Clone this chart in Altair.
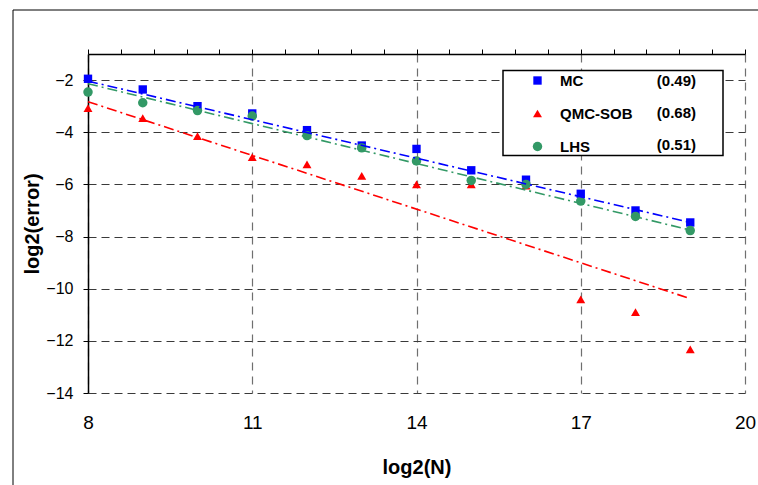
import altair as alt
import pandas as pd

# ---------------- data ----------------
log2_n = [8, 9, 10, 11, 12, 13, 14, 15, 16, 17, 18, 19]
mc_err = [-1.95, -2.36, -3.0, -3.28, -3.92, -4.51, -4.64, -5.46, -5.82, -6.36, -7.0, -7.46]
qmc_err = [-3.08, -3.46, -4.15, -4.95, -5.23, -5.67, -6.0, -6.0, -6.05, -10.41, -10.9, -12.33]
lhs_err = [-2.46, -2.87, -3.17, -3.38, -4.13, -4.6, -5.1, -5.85, -6.0, -6.64, -7.23, -7.77]

series_names = ["MC", "QMC-SOB", "LHS"]
slopes = ["(0.49)", "(0.68)", "(0.51)"]

# fitted trend lines (end points)
trend_x = [8, 19]
trend_mc = [-2.04, -7.46]
trend_qmc = [-2.83, -10.38]
trend_lhs = [-2.14, -7.75]

x_major = [8, 11, 14, 17, 20]
x_minor = [round(8 + 0.6 * k, 1) for k in range(21)]
y_ticks = [-2, -4, -6, -8, -10, -12, -14]

# ---------------- tables ----------------
pts = pd.concat([
    pd.DataFrame({"x": log2_n, "y": mc_err, "series": "MC"}),
    pd.DataFrame({"x": log2_n, "y": qmc_err, "series": "QMC-SOB"}),
    pd.DataFrame({"x": log2_n, "y": lhs_err, "series": "LHS"}),
], ignore_index=True)

trend = pd.concat([
    pd.DataFrame({"x": trend_x, "y": trend_mc, "series": "MC"}),
    pd.DataFrame({"x": trend_x, "y": trend_qmc, "series": "QMC-SOB"}),
    pd.DataFrame({"x": trend_x, "y": trend_lhs, "series": "LHS"}),
], ignore_index=True)

slope_df = pd.DataFrame({"series": series_names, "slope": slopes})
one = pd.DataFrame({"a": [0]})

colors = ["#0000FF", "#FF0000", "#339966"]
shapes = ["square", "triangle-up", "circle"]
FONT = "Liberation Sans"

x_scale = alt.Scale(domain=[8, 20], nice=False, zero=False)
y_scale = alt.Scale(domain=[-14, -1], nice=False, zero=False)

y_enc = alt.Y("y:Q", scale=y_scale, axis=alt.Axis(
    values=y_ticks, title="log2(error)", titleFont=FONT, titleFontSize=20,
    titleFontWeight="bold", titleColor="black", titleX=-56, titleY=169.5,
    titleBaseline="middle", titleAngle=270, labelFlush=False,
    labelFont=FONT, labelFontSize=16, labelColor="black", labelPadding=10,
    tickSize=5, tickColor="black", domainColor="black", domainWidth=1.5,
    grid=True, gridColor="#3a3a3a", gridDash=[8, 5], gridWidth=1.2))

points = alt.Chart(pts).mark_point(filled=True, opacity=1).encode(
    x=alt.X("x:Q", scale=x_scale, axis=alt.Axis(
        orient="bottom", values=x_major, title="log2(N)", titleFont=FONT,
        titleFontSize=20, titleFontWeight="bold", titleColor="black",
        titleX=328.5, titleY=74, titleBaseline="middle", labelFlush=False,
        labelFont=FONT, labelFontSize=19, labelColor="black", labelPadding=20,
        ticks=False, domain=False,
        grid=True, gridColor="#6f6f6f", gridDash=[8, 6], gridWidth=1.2)),
    y=y_enc,
    color=alt.Color("series:N", scale=alt.Scale(domain=series_names, range=colors),
                    legend=alt.Legend(orient="none", legendX=442, legendY=19, title=None,
                                      labelFont=FONT, labelFontSize=15,
                                      labelFontWeight="bold", labelColor="black",
                                      symbolSize=42, rowPadding=17, labelOffset=15,
                                      padding=0, symbolStrokeWidth=0)),
    shape=alt.Shape("series:N", scale=alt.Scale(domain=series_names, range=shapes)),
    size=alt.Size("series:N", scale=alt.Scale(domain=series_names, range=[70, 90, 50]),
                  legend=None),
    order=alt.Order("idx:Q"),
).transform_calculate(
    idx="datum.series == 'MC' ? 0 : (datum.series == 'QMC-SOB' ? 1 : 2)"
)

lines = alt.Chart(trend).mark_line(strokeDash=[10, 4, 2, 4], strokeWidth=1.6).encode(
    x=alt.X("x:Q", scale=x_scale, axis=alt.Axis(
        orient="top", values=x_minor, labels=False, title=None, grid=False,
        tickSize=5, tickColor="black", domainColor="black", domainWidth=1.5)),
    y=y_enc,
    stroke=alt.Stroke("series:N", scale=alt.Scale(domain=series_names, range=colors),
                      legend=None),
    detail="series:N",
)

# legend frame, slope values and outer frame
legend_box = alt.Chart(one).mark_rect(fill="white", stroke="black", strokeWidth=1.5).encode(
    x=alt.value(415), x2=alt.value(635), y=alt.value(16.5), y2=alt.value(101.5))

slope_layers = []
for i, name in enumerate(series_names):
    slope_layers.append(
        alt.Chart(slope_df).transform_filter(alt.datum.series == name).mark_text(
            align="right", baseline="middle", font=FONT, fontSize=15,
            fontWeight="bold", color="black").encode(
            x=alt.value(608), y=alt.value(26.7 + 32 * i), text="slope:N"))

frame_v = alt.Chart(one).mark_rule(color="black", strokeWidth=1).encode(
    x=alt.value(-75), y=alt.value(-44), y2=alt.value(440))
frame_h = alt.Chart(one).mark_rule(color="black", strokeWidth=1).encode(
    x=alt.value(-75), x2=alt.value(680), y=alt.value(-44))

chart = alt.layer(
    points, lines, legend_box, *slope_layers, frame_v, frame_h
).resolve_axis(x="independent").resolve_scale(color="shared").properties(
    width=657, height=339,
    autosize=alt.AutoSizeParams(type="none"),
    padding={"left": 88, "top": 54, "right": 13, "bottom": 92},
    background="white",
).configure_view(stroke=None)

chart.save("out.html", embed_options={"renderer": "svg", "actions": False})
